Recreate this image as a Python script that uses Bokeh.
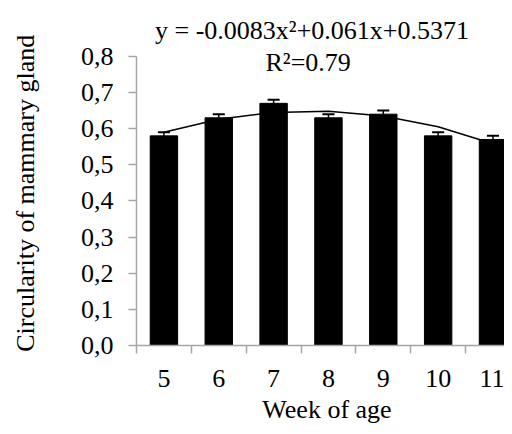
from bokeh.plotting import figure
from bokeh.models import Range1d, FixedTicker, Label
from bokeh.embed import file_html
from bokeh.resources import INLINE

# ---- data ----
weeks = [5, 6, 7, 8, 9, 10, 11]
circularity = [0.58, 0.63, 0.67, 0.63, 0.64, 0.58, 0.57]
err = [0.01, 0.01, 0.01, 0.01, 0.01, 0.01, 0.01]
trend = [0.590, 0.626, 0.645, 0.648, 0.635, 0.605, 0.558]
y_ticks = [0.0, 0.1, 0.2, 0.3, 0.4, 0.5, 0.6, 0.7, 0.8]
y_tick_labels = ["0,0", "0,1", "0,2", "0,3", "0,4", "0,5", "0,6", "0,7", "0,8"]
equation = "y = -0.0083x²+0.061x+0.5371"
r2_text = "R²=0.79"
x_title = "Week of age"
y_title = "Circularity of mammary gland"

FONT = "Liberation Serif"
FS = "26px"
AXC = "#a6a6a6"
NBSP = "\u00a0"

p = figure(width=504, height=426, output_backend="svg", toolbar_location=None,
           x_range=Range1d(4.5, 11.21), y_range=Range1d(0, 0.9324),
           min_border_left=136, min_border_right=0, min_border_top=8,
           min_border_bottom=80)
p.outline_line_color = None
p.grid.visible = False
p.background_fill_color = "white"

# bars
p.vbar(x=weeks, top=circularity, width=0.5, fill_color="black", line_color="black")

# error bars (upper only)
tops = [v + e for v, e in zip(circularity, err)]
p.segment(x0=weeks, y0=circularity, x1=weeks, y1=tops, line_color="black", line_width=1.5)
p.segment(x0=[w - 0.11 for w in weeks], y0=tops, x1=[w + 0.11 for w in weeks], y1=tops,
          line_color="black", line_width=2)

# trend line
p.line(weeks, trend, line_color="black", line_width=1.5)

# equation text
p.add_layout(Label(x=7.70, y=0.8717, text=equation, text_align="center",
                   text_baseline="alphabetic", text_font=FONT, text_font_size=FS,
                   text_color="black"))
p.add_layout(Label(x=7.63, y=0.7834, text=r2_text, text_align="center",
                   text_baseline="alphabetic", text_font=FONT, text_font_size=FS,
                   text_color="black"))

# x axis
xa = p.xaxis[0]
xa.ticker = FixedTicker(ticks=weeks, minor_ticks=[w - 0.5 for w in weeks] + [weeks[-1] + 0.5])
xa.major_label_overrides = {w: str(w) for w in weeks}
xa.major_tick_out = 0
xa.major_tick_in = 0
xa.minor_tick_out = 8
xa.minor_tick_in = 0
xa.minor_tick_line_color = AXC
xa.axis_line_color = AXC
xa.axis_line_width = 1.5
xa.minor_tick_line_width = 1.5
xa.major_label_standoff = 16
xa.major_label_text_font = FONT
xa.major_label_text_font_size = FS
xa.major_label_text_color = "black"
xa.axis_label = NBSP * 2 + x_title
xa.axis_label_text_font = FONT
xa.axis_label_text_font_size = FS
xa.axis_label_text_font_style = "normal"
xa.axis_label_text_color = "black"
xa.axis_label_standoff = 5

# y axis
ya = p.yaxis[0]
ya.ticker = FixedTicker(ticks=y_ticks)
ya.major_label_overrides = dict(zip(y_ticks, y_tick_labels))
ya.bounds = (y_ticks[0], y_ticks[-1])
ya.major_tick_out = 8
ya.major_tick_in = 0
ya.minor_tick_out = 0
ya.minor_tick_in = 0
ya.major_tick_line_color = AXC
ya.major_tick_line_width = 1.5
ya.axis_line_color = AXC
ya.axis_line_width = 1.5
ya.major_label_standoff = 15
ya.major_label_text_font = FONT
ya.major_label_text_font_size = FS
ya.major_label_text_color = "black"
ya.axis_label = y_title + NBSP * 5
ya.axis_label_text_font = FONT
ya.axis_label_text_font_size = FS
ya.axis_label_text_font_style = "normal"
ya.axis_label_text_color = "black"
ya.axis_label_standoff = 38

open("out.html", "w").write(file_html(p, INLINE))
